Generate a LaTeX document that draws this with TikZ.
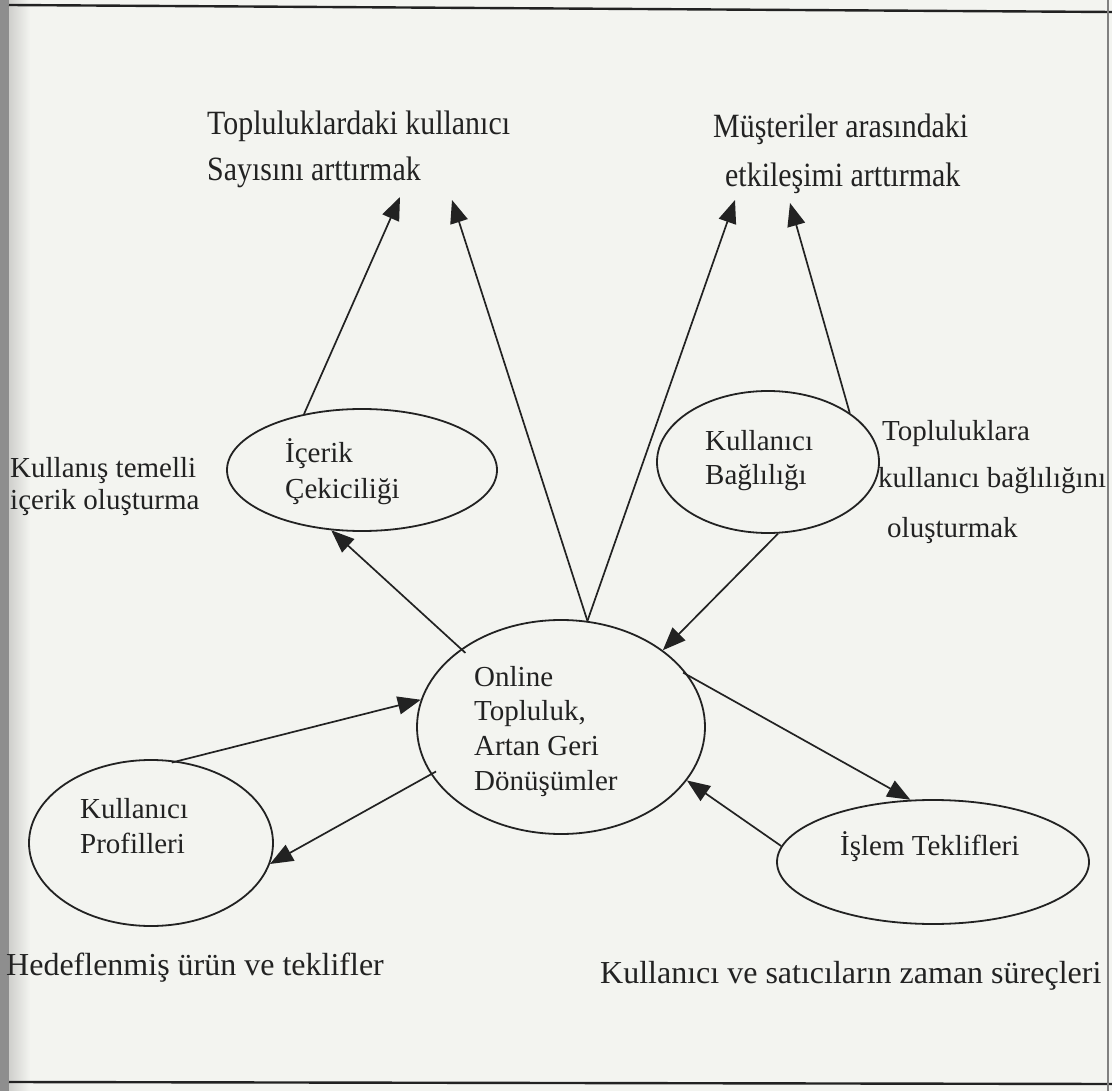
\documentclass[tikz,border=0pt]{standalone}
\usepackage{fontspec}
\setmainfont{Liberation Serif}
\newfontfamily\narrowserif[FakeStretch=0.88]{Liberation Serif}
\usetikzlibrary{shapes.geometric,arrows.meta}
\definecolor{paper}{HTML}{F3F4F0}
\definecolor{ink}{HTML}{222222}
\definecolor{binding}{HTML}{8E8E8E}
\definecolor{bindlight}{HTML}{CFCFCC}
\begin{document}
\begin{tikzpicture}[x=1pt,y=-1pt,
  bubble/.style={draw=ink, line width=1.8pt, ellipse, inner sep=0pt},
  flow/.style={draw=ink, line width=1.7pt, -{Triangle[length=23pt,width=18pt]}},
  overrun/.style={shorten <=-6pt},
  txt/.style={inner sep=0pt, anchor=base west, text=ink},
  inner/.style={txt, font=\fontsize{29}{35}\selectfont},
  side/.style={txt, font=\fontsize{29}{35}\selectfont},
  foot/.style={txt, font=\fontsize{32}{38}\selectfont},
  head/.style={txt, font=\narrowserif\fontsize{34}{40}\selectfont},
  frame/.style={draw=ink, line width=2.4pt}
]
\useasboundingbox (0,0) rectangle (1112,1091);
% page
\fill[paper] (0,0) rectangle (1112,1091);
\fill[binding] (0,0) rectangle (9,1091);
\shade[left color=bindlight, right color=paper] (9,0) rectangle (30,1091);
\draw[frame] (9,5) -- (1112,12);
\draw[frame] (9,1082) -- (1112,1084);
\draw[draw=gray, line width=1.2pt] (1108,0) -- (1108,1091);

% goals at the top
\node[head] (g1a) at (207,135) {Topluluklardaki kullanıcı};
\node[head] (g1b) at (207,181) {Sayısını arttırmak};
\node[head] (g2a) at (713,138) {Müşteriler arasındaki};
\node[head] (g2b) at (725,187) {etkileşimi arttırmak};

% arrow targets under the goals
\coordinate (t1) at (400,197);
\coordinate (t2) at (452,200);
\coordinate (t3) at (735,200);
\coordinate (t4) at (790,203);

% ellipses
\node[bubble, minimum width=270pt, minimum height=122pt] (icerik) at (362,470) {};
\node[bubble, minimum width=222pt, minimum height=142pt] (bagli) at (768,462) {};
\node[bubble, minimum width=288pt, minimum height=214pt] (online) at (561,727) {};
\node[bubble, minimum width=244pt, minimum height=166pt] (profil) at (151,843) {};
\node[bubble, minimum width=312pt, minimum height=124pt] (islem) at (933,862) {};

% texts inside the ellipses
\node[inner] (icerik1) at (285,462) {İçerik};
\node[inner] (icerik2) at (285,498) {Çekiciliği};
\node[inner] (bagli1) at (705,450) {Kullanıcı};
\node[inner] (bagli2) at (705,484) {Bağlılığı};
\node[inner] (online1) at (474,686) {Online};
\node[inner] (online2) at (474,720) {Topluluk,};
\node[inner] (online3) at (474,755) {Artan Geri};
\node[inner] (online4) at (474,790) {Dönüşümler};
\node[inner] (profil1) at (80,818) {Kullanıcı};
\node[inner] (profil2) at (80,853) {Profilleri};
\node[inner] (islem1) at (840,855) {İşlem Teklifleri};

% side notes
\node[side] (not1a) at (10,477) {Kullanış temelli};
\node[side] (not1b) at (10,509) {içerik oluşturma};
\node[side] (not2a) at (882,440) {Topluluklara};
\node[side] (not2b) at (878,487) {kullanıcı bağlılığını};
\node[side] (not2c) at (887,537) {oluşturmak};
\node[foot] (alt1) at (6,975) {Hedeflenmiş ürün ve teklifler};
\node[foot] (alt2) at (600,983) {Kullanıcı ve satıcıların zaman süreçleri};

% connectors
\draw[flow] (icerik.136) -- (t1);
\draw[flow] (online.76) -- (t2);
\draw[flow] (online.76) -- (t3);
\draw[flow] (bagli.31) -- (t4);
\draw[flow] (bagli.-82) -- (online.37.5);
\draw[flow, overrun] (online.142.6) -- (icerik.-117);
\draw[flow, overrun] (profil.72.7) -- (online.169.8);
\draw[flow, overrun] (online.200.8) -- (profil.-10.2);
\draw[flow, overrun] (online.22) -- (islem.110.4);
\draw[flow] (islem.174.5) -- (online.-23.5);
\end{tikzpicture}
\end{document}
